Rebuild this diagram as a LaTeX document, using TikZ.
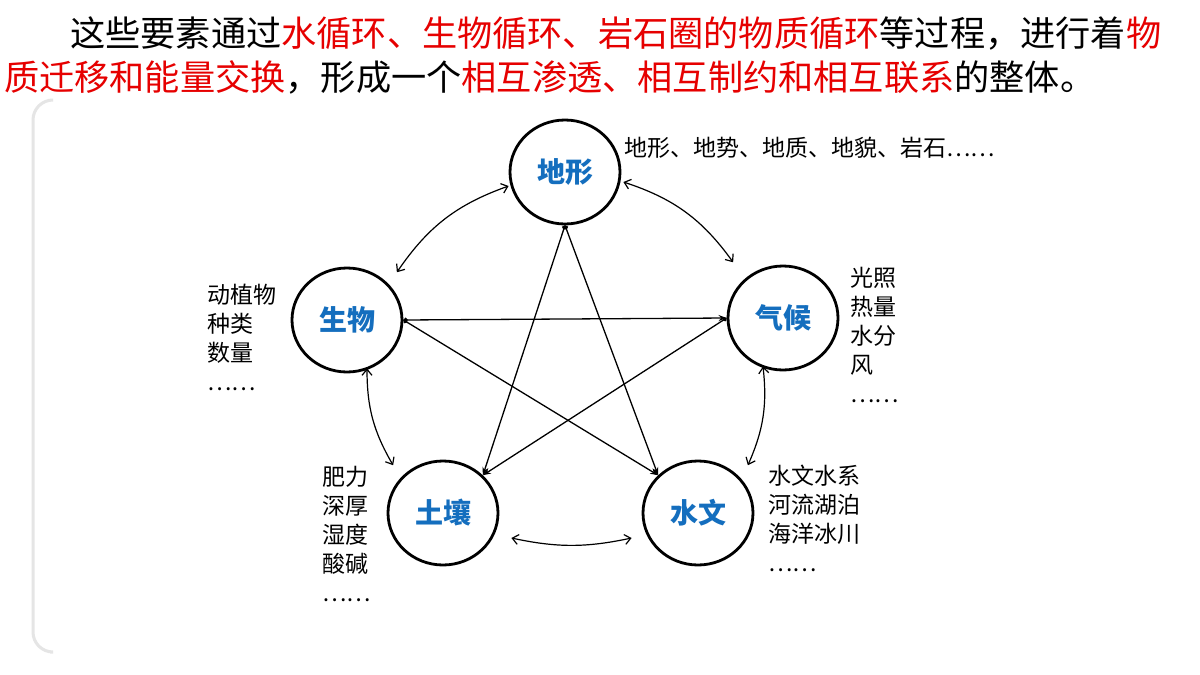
\documentclass[tikz,border=0pt]{standalone}
\usepackage{fontspec}
\setmainfont{Noto Sans CJK SC}
\usetikzlibrary{arrows.meta,shapes.geometric}
\definecolor{tred}{RGB}{230,0,0}
\definecolor{tblue}{RGB}{20,110,190}
\begin{document}
\begin{tikzpicture}[x=1pt,y=-1pt,
  el/.style={draw,line width=2.8pt,ellipse,minimum width=110pt,minimum height=104pt,inner sep=0pt,font=\fontsize{28}{32}\selectfont\bfseries,text=tblue},
  side/.style={font=\fontsize{23}{29}\selectfont,align=left,inner sep=0pt},
  star/.style={line width=1.3pt,{Circle[length=4.5pt]}-{Stealth[length=8pt,width=6pt]}},
  curv/.style={line width=1.2pt,{Straight Barb[length=6pt,width=10pt]}-{Straight Barb[length=6pt,width=10pt]}}]
\useasboundingbox (0,0) rectangle (1200,675);
\fill[white] (0,0) rectangle (1200,675);
\draw[line width=3pt,gray!20,rounded corners=20pt] (50,100) -- (33,100) -- (33,652) -- (50,652);
\node[anchor=west,inner sep=0pt,font=\fontsize{35.2}{40}\selectfont] (t1) at (70,33) {这些要素通过{\color{tred}水循环、生物循环、岩石圈的物质循环}等过程，进行着{\color{tred}物}};
\node[anchor=west,inner sep=0pt,font=\fontsize{35.2}{40}\selectfont] (t2) at (4,77) {{\color{tred}质迁移和能量交换}，形成一个{\color{tred}相互渗透、相互制约和相互联系}的整体。};
\node[el] (dx) at (565,172) {地形};
\node[el] (sw) at (347,320) {生物};
\node[el] (qh) at (783,318) {气候};
\node[el] (tr) at (443,513) {土壤};
\node[el] (sh) at (698,513) {水文};
\node[side,anchor=west] (l1) at (624,148) {地形、地势、地质、地貌、岩石\dots\dots};
\node[side,anchor=north west] (l2) at (207,284) {动植物\\种类\\数量\\\dots\dots};
\node[side,anchor=north west] (l3) at (850,267) {光照\\热量\\水分\\风\\\dots\dots};
\node[side,anchor=north west] (l4) at (322,466) {肥力\\深厚\\湿度\\酸碱\\\dots\dots};
\node[side,anchor=north west] (l5) at (768,465) {水文水系\\河流湖泊\\海洋冰川\\\dots\dots};
\draw[star] (dx.south) -- (tr.north east);
\draw[star] (dx.south) -- (sh.north west);
\draw[star] (sw.east) -- (qh.west);
\draw[star] (sw.east) -- (sh.north west);
\draw[star] (qh.west) -- (tr.north east);
\path (dx.west) ++(0,14) coordinate (a1) (sw.north east) ++(10,-10) coordinate (b1);
\draw[curv] (a1) to[bend right=18] (b1);
\path (dx.east) ++(2,10) coordinate (a2) (qh.north west) ++(-10,-18) coordinate (b2);
\draw[curv] (a2) to[bend left=18] (b2);
\path (sw.south) ++(20,-5) coordinate (a3) (tr.north west) ++(-10,-10) coordinate (b3);
\draw[curv] (a3) to[bend right=15] (b3);
\path (qh.south) ++(-20,-5) coordinate (a4) (sh.north east) ++(10,-10) coordinate (b4);
\draw[curv] (a4) to[bend left=15] (b4);
\path (tr.east) ++(12,25) coordinate (a5) (sh.west) ++(-10,25) coordinate (b5);
\draw[curv] (a5) to[bend right=12] (b5);
\end{tikzpicture}
\end{document}
